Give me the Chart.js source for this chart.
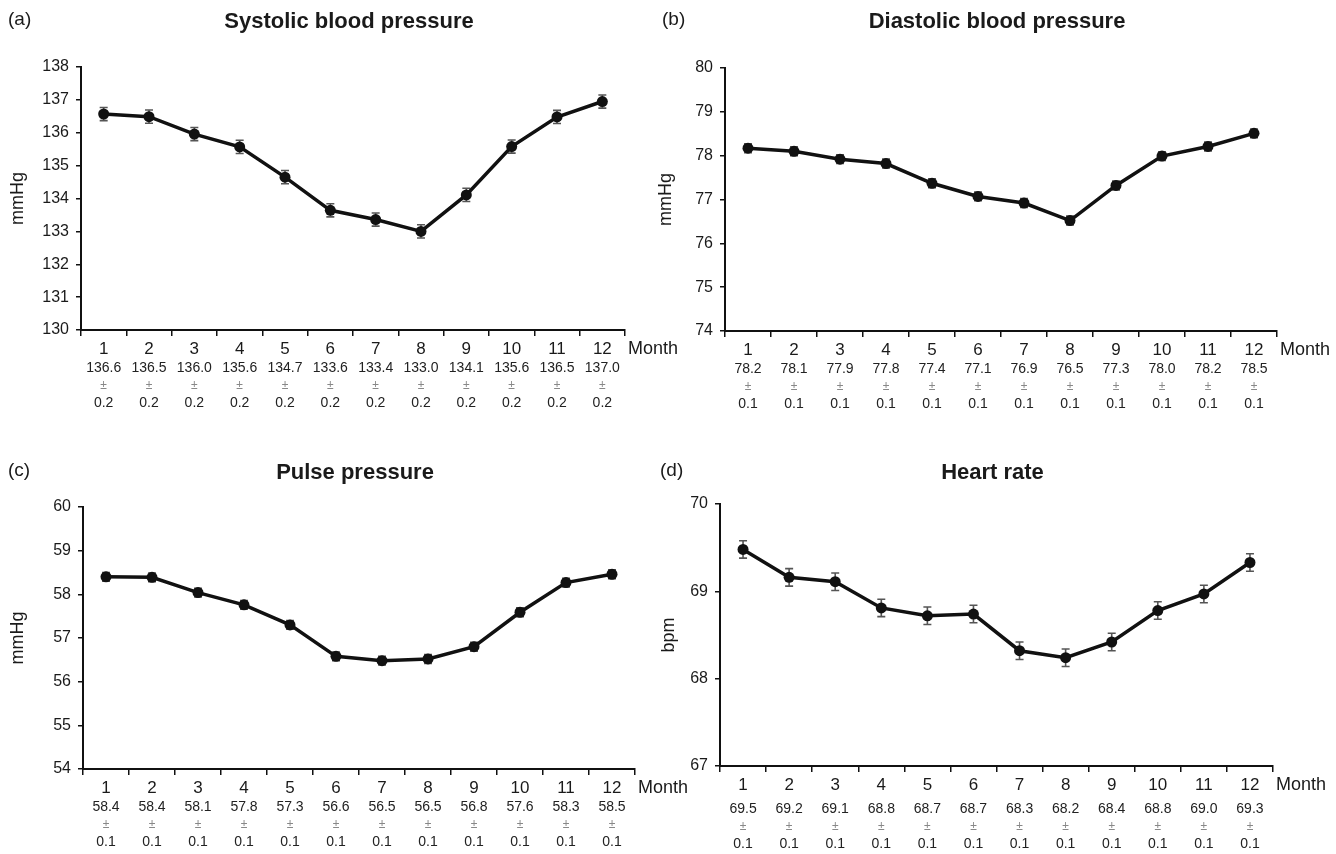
<!DOCTYPE html>
<html><head><meta charset="utf-8">
<script src="https://cdn.jsdelivr.net/npm/chart.js@4"></script>
<style>
html,body{margin:0;padding:0;background:#fff;}
#wrap{position:relative;width:1336px;height:854px;overflow:hidden;background:#fff;}
canvas{position:absolute;left:0;top:0;pointer-events:none;}
</style></head><body><div id="wrap">
<canvas id="ca" width="1336" height="854"></canvas>
<canvas id="cb" width="1336" height="854"></canvas>
<canvas id="cc" width="1336" height="854"></canvas>
<canvas id="cd" width="1336" height="854"></canvas>
</div>
<script>
// ---- data ----
const months = ['1','2','3','4','5','6','7','8','9','10','11','12'];

const sbpMean = [136.57, 136.49, 135.96, 135.57, 134.65, 133.64, 133.36, 133.00, 134.11, 135.58, 136.48, 136.95];
const sbpLabel = ['136.6','136.5','136.0','135.6','134.7','133.6','133.4','133.0','134.1','135.6','136.5','137.0'];
const sbpSE = [0.2,0.2,0.2,0.2,0.2,0.2,0.2,0.2,0.2,0.2,0.2,0.2];
const sbpAxis = [130, 138];

const dbpMean = [78.17, 78.10, 77.92, 77.82, 77.37, 77.07, 76.92, 76.52, 77.32, 77.99, 78.21, 78.51];
const dbpLabel = ['78.2','78.1','77.9','77.8','77.4','77.1','76.9','76.5','77.3','78.0','78.2','78.5'];
const dbpSE = [0.1,0.1,0.1,0.1,0.1,0.1,0.1,0.1,0.1,0.1,0.1,0.1];
const dbpAxis = [74, 80];

const ppMean = [58.40, 58.39, 58.04, 57.76, 57.30, 56.58, 56.48, 56.52, 56.80, 57.59, 58.27, 58.46];
const ppLabel = ['58.4','58.4','58.1','57.8','57.3','56.6','56.5','56.5','56.8','57.6','58.3','58.5'];
const ppSE = [0.1,0.1,0.1,0.1,0.1,0.1,0.1,0.1,0.1,0.1,0.1,0.1];
const ppAxis = [54, 60];

const hrMean = [69.48, 69.16, 69.11, 68.81, 68.72, 68.74, 68.32, 68.24, 68.42, 68.78, 68.97, 69.33];
const hrLabel = ['69.5','69.2','69.1','68.8','68.7','68.7','68.3','68.2','68.4','68.8','69.0','69.3'];
const hrSE = [0.1,0.1,0.1,0.1,0.1,0.1,0.1,0.1,0.1,0.1,0.1,0.1];
const hrAxis = [67, 70];

// ---- layout ----
const F = "'Liberation Sans', Arial, Helvetica, sans-serif";
const YW = 50, XH = 30;
const panels = [
  {id:'ca', letter:'(a)', title:'Systolic blood pressure', unit:'mmHg', mean:sbpMean, lab:sbpLabel, se:sbpSE, axis:sbpAxis,
   box:{L:81,T:67,R:625,B:330}, lx:8, ly:20, ty:22, ux:18, rs:0},
  {id:'cb', letter:'(b)', title:'Diastolic blood pressure', unit:'mmHg', mean:dbpMean, lab:dbpLabel, se:dbpSE, axis:dbpAxis,
   box:{L:725,T:68,R:1277,B:331}, lx:662, ly:20, ty:22, ux:666, rs:0},
  {id:'cc', letter:'(c)', title:'Pulse pressure', unit:'mmHg', mean:ppMean, lab:ppLabel, se:ppSE, axis:ppAxis,
   box:{L:83,T:507,R:635,B:769}, lx:8, ly:471, ty:473, ux:18, rs:0},
  {id:'cd', letter:'(d)', title:'Heart rate', unit:'bpm', mean:hrMean, lab:hrLabel, se:hrSE, axis:hrAxis,
   box:{L:720,T:504,R:1273,B:766}, lx:660, ly:471, ty:473, ux:669, rs:5}
];

const decor = {
  id:'decor',
  beforeDatasetsDraw(chart, args, opts){
    const p = opts.p; const xs = chart.scales.x, ys = chart.scales.y;
    const c = chart.ctx; c.save();
    c.strokeStyle = '#555'; c.lineWidth = 1.6;
    p.mean.forEach((m,i)=>{
      const x = xs.getPixelForValue(i);
      const y1 = ys.getPixelForValue(m + p.se[i]);
      const y2 = ys.getPixelForValue(m - p.se[i]);
      c.beginPath();
      c.moveTo(x, y1); c.lineTo(x, y2);
      c.moveTo(x-4, y1); c.lineTo(x+4, y1);
      c.moveTo(x-4, y2); c.lineTo(x+4, y2);
      c.stroke();
    });
    c.restore();
  },
  afterDraw(chart, args, opts){
    const p = opts.p; const xs = chart.scales.x; const a = chart.chartArea;
    const c = chart.ctx; c.save();
    c.fillStyle = '#1a1a1a';
    c.textBaseline = 'middle';
    c.font = '19px ' + F; c.textAlign = 'left';
    c.fillText(p.letter, p.lx, p.ly);
    c.font = 'bold 22px ' + F; c.textAlign = 'center';
    c.fillText(p.title, (a.left + a.right)/2 - 4, p.ty);
    c.save();
    c.translate(p.ux, (a.top + a.bottom)/2);
    c.rotate(-Math.PI/2);
    c.font = '18px ' + F; c.textAlign = 'center';
    c.fillText(p.unit, 0, 0);
    c.restore();
    c.font = '18px ' + F; c.textAlign = 'left';
    c.fillText('Month', a.right + 3, a.bottom + 19);
    c.textAlign = 'center';
    p.mean.forEach((m,i)=>{
      const x = xs.getPixelForValue(i);
      c.fillStyle = '#222'; c.font = '14px ' + F;
      c.fillText(p.lab[i], x, a.bottom + 38 + p.rs);
      c.fillStyle = '#888'; c.font = '12px ' + F;
      c.fillText('\u00B1', x, a.bottom + 56 + p.rs);
      c.fillStyle = '#222'; c.font = '14px ' + F;
      c.fillText(p.se[i].toFixed(1), x, a.bottom + 73 + p.rs);
    });
    c.restore();
  }
};

panels.forEach(p=>{
  const b = p.box;
  new Chart(document.getElementById(p.id), {
    type:'line',
    data:{labels: months, datasets:[{
      data: p.mean, borderColor:'#111', borderWidth:3.5, tension:0,
      pointRadius:5.5, pointBackgroundColor:'#111', pointBorderColor:'#111', pointBorderWidth:0
    }]},
    options:{
      responsive:false, animation:false, devicePixelRatio:1,
      layout:{padding:{left: b.L - YW, top: b.T, right: 1336 - b.R, bottom: 854 - b.B - XH}},
      plugins:{legend:{display:false}, tooltip:{enabled:false}, title:{display:false}, decor:{p:p}},
      events:[],
      scales:{
        x:{type:'category', offset:true,
           grid:{offset:true, drawOnChartArea:false, drawTicks:true, tickLength:6, color:'#111', lineWidth:1.5},
           border:{display:true, color:'#111', width:2},
           ticks:{font:{family:F, size:17}, color:'#1a1a1a', padding:3, maxRotation:0, autoSkip:false},
           afterFit(s){ s.height = XH; }},
        y:{min:p.axis[0], max:p.axis[1],
           grid:{drawOnChartArea:false, drawTicks:true, tickLength:5, color:'#111', lineWidth:1.5},
           border:{display:true, color:'#111', width:2},
           ticks:{stepSize:1, font:{family:F, size:16}, color:'#1a1a1a', padding:7},
           afterFit(s){ s.width = YW; }}
      }
    },
    plugins:[decor]
  });
});
</script>
</body></html>
